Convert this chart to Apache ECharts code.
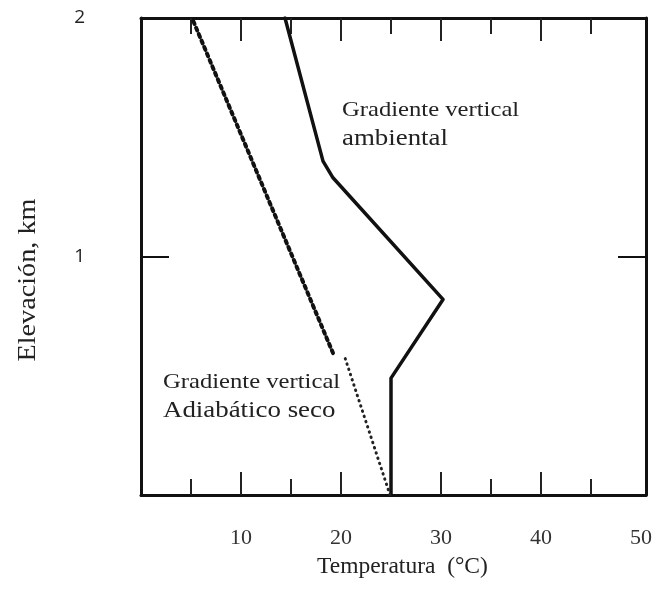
<!DOCTYPE html>
<html>
<head>
<meta charset="utf-8">
<script src="https://cdn.jsdelivr.net/npm/echarts@6/dist/echarts.min.js"></script>
<style>html,body{margin:0;padding:0;background:#fff}#c{width:654px;height:589px}</style>
</head>
<body>
<div id="c"></div>
<script>
// Data
const xTickLabels = ['10', '20', '30', '40', '50'];
const yTickLabels = ['1', '2'];
const xMajorTicks = [10, 20, 30, 40];
const xMinorTicks = [5, 15, 25, 35, 45];
// Environmental lapse rate (Gradiente vertical ambiental)
const envTemp = [25, 25, 30.2, 19.2, 18.2, 14.4];
const envElev = [0, 0.49, 0.82, 1.33, 1.40, 2.0];
// Dry adiabatic lapse rate, lower dotted part
const adiaDotTemp = [24.9, 20.4];
const adiaDotElev = [0, 0.575];
// Dry adiabatic lapse rate, upper dashed part
const adiaDashTemp = [19.2, 5.1];
const adiaDashElev = [0.595, 2.0];

const pairs = (xs, ys) => xs.map((x, i) => [x, ys[i]]);
const ink = '#111';
const serif = '"Liberation Serif", "DejaVu Serif", serif';

function tickAxis(position, values, len) {
  return {
    type: 'value', position: position, min: 0, max: 50.5, interval: 10,
    axisLine: {show: false, onZero: false},
    axisTick: {show: true, inside: true, length: len, customValues: values, lineStyle: {color: '#222', width: 2}},
    splitLine: {show: false},
    axisLabel: {show: false}
  };
}

const chart = echarts.init(document.getElementById('c'), null, {renderer: 'canvas'});
chart.setOption({
  animation: false,
  backgroundColor: '#fff',
  grid: {left: 141, right: 8, top: 18, bottom: 94, containLabel: false, outerBoundsMode: 'none'},
  xAxis: [
    {
      type: 'value', position: 'bottom', min: 0, max: 50.5, interval: 10,
      axisLine: {show: true, onZero: false, lineStyle: {color: ink, width: 3}},
      axisTick: {show: true, inside: true, length: 23, customValues: xMajorTicks, lineStyle: {color: '#222', width: 2}},
      splitLine: {show: false},
      axisLabel: {
        margin: 32, fontFamily: serif, fontSize: 22, color: '#333',
        showMaxLabel: false,
        formatter: v => (xTickLabels.indexOf(String(v)) >= 0 ? String(v) : '')
      }
    },
    {
      type: 'value', position: 'top', min: 0, max: 50.5, interval: 10,
      axisLine: {show: true, onZero: false, lineStyle: {color: ink, width: 3}},
      axisTick: {show: true, inside: true, length: 23, customValues: xMajorTicks, lineStyle: {color: '#222', width: 2}},
      splitLine: {show: false},
      axisLabel: {show: false}
    },
    tickAxis('bottom', xMinorTicks, 16),
    tickAxis('top', xMinorTicks, 16)
  ],
  yAxis: [
    {
      type: 'value', position: 'left', min: 0, max: 2, interval: 1,
      axisLine: {show: true, onZero: false, lineStyle: {color: ink, width: 3}},
      axisTick: {show: true, inside: true, length: 28, lineStyle: {color: ink, width: 2}},
      splitLine: {show: false},
      axisLabel: {
        margin: 56, fontFamily: '"Open Sans", "DejaVu Sans", sans-serif', fontSize: 19, color: '#222',
        formatter: v => (yTickLabels.indexOf(String(v)) >= 0 ? String(v) : '')
      }
    },
    {
      type: 'value', position: 'right', min: 0, max: 2, interval: 1,
      axisLine: {show: true, onZero: false, lineStyle: {color: ink, width: 3}},
      axisTick: {show: true, inside: true, length: 28, lineStyle: {color: ink, width: 2}},
      splitLine: {show: false},
      axisLabel: {show: false}
    }
  ],
  series: [
    {
      type: 'line', xAxisIndex: 0, yAxisIndex: 0, symbol: 'none',
      data: pairs(envTemp, envElev),
      lineStyle: {color: ink, width: 3.5, join: 'round', cap: 'round'}
    },
    {
      type: 'line', xAxisIndex: 0, yAxisIndex: 0, symbol: 'none',
      data: pairs(adiaDotTemp, adiaDotElev),
      lineStyle: {color: '#222', width: 3, type: [0.5, 5], cap: 'round'}
    },
    {
      type: 'line', xAxisIndex: 0, yAxisIndex: 0, symbol: 'none',
      data: pairs(adiaDashTemp, adiaDashElev),
      lineStyle: {color: ink, width: 4, type: [3, 4], cap: 'round'}
    }
  ],
  graphic: [
    {type: 'text', left: 342, top: 99, scaleX: 1.12, style: {text: 'Gradiente vertical', font: '22px ' + serif, fill: '#222'}},
    {type: 'text', left: 342, top: 127, scaleX: 1.12, style: {text: 'ambiental', font: '24px ' + serif, fill: '#222'}},
    {type: 'text', left: 163, top: 371, scaleX: 1.12, style: {text: 'Gradiente vertical', font: '22px ' + serif, fill: '#222'}},
    {type: 'text', left: 163, top: 399, scaleX: 1.12, style: {text: 'Adiabático seco', font: '24px ' + serif, fill: '#222'}},
    {type: 'text', left: 317, top: 555, style: {text: 'Temperatura  (°C)', font: '23.5px ' + serif, fill: '#222'}},
    {type: 'text', x: 28, y: 280, rotation: Math.PI / 2, scaleX: 1.13,
      style: {text: 'Elevación, km', font: '25px ' + serif, fill: '#222', align: 'center', verticalAlign: 'middle'}}
  ]
});
</script>
</body>
</html>
